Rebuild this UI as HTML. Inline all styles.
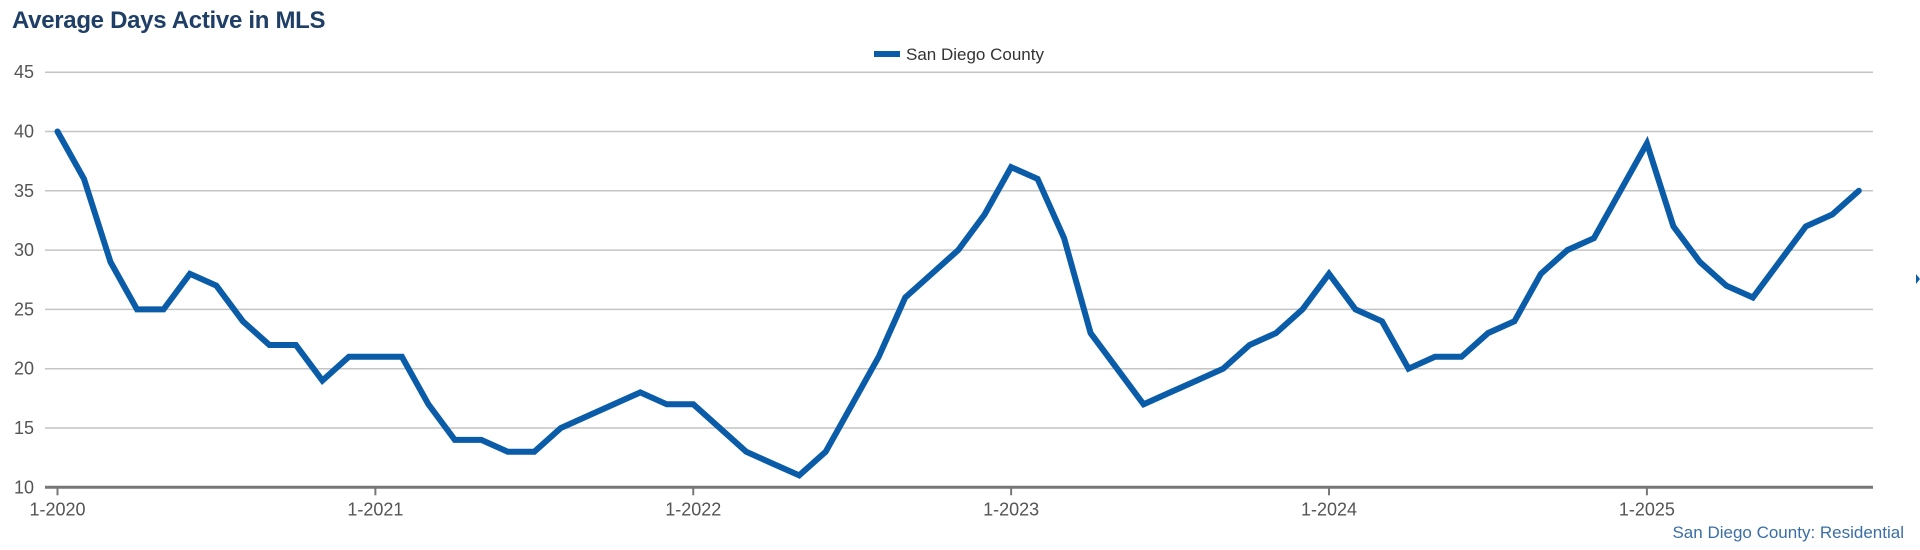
<!DOCTYPE html>
<html><head><meta charset="utf-8"><style>
body{margin:0;background:#fff;width:1920px;height:550px;overflow:hidden;font-family:"Liberation Sans",sans-serif}
#title{position:absolute;left:12px;top:7px;font-size:24px;font-weight:bold;color:#1f3f66;letter-spacing:-0.3px}
</style></head><body>
<div id="title">Average Days Active in MLS</div>
<svg id="chart" width="1920" height="550" style="position:absolute;left:0;top:0"></svg>
<script>
const yTicks=[10,15,20,25,30,35,40,45];
const xTickLabels=["1-2020","1-2021","1-2022","1-2023","1-2024","1-2025"];
const xTickMonths=[0,12,24,36,48,60];
const seriesName="San Diego County";
const values=[40,36,29,25,25,28,27,24,22,22,19,21,
21,21,17,14,14,13,13,15,16,17,18,17,
17,15,13,12,11,13,17,21,26,28,30,33,
37,36,31,23,20,17,18,19,20,22,23,25,
28,25,24,20,21,21,23,24,28,30,31,35,
39,32,29,27,26,29,32,33,35];
const NS="http://www.w3.org/2000/svg";
const svg=document.getElementById('chart');
const x0=57.5,mw=26.49,yb=487.3,pu=11.86;
const X=m=>x0+m*mw, Y=v=>yb-(v-10)*pu;
function mk(t,a,p){const e=document.createElementNS(NS,t);for(const k in a)e.setAttribute(k,a[k]);(p||svg).appendChild(e);return e;}
yTicks.forEach(v=>{
 const g=mk('line',{x1:45,x2:1873,y1:Y(v),y2:Y(v),stroke:v===10?'#777':'#c4c4c4','stroke-width':v===10?3:1.5});
 
 
 const t=mk('text',{x:34,y:Y(v)+6,'text-anchor':'end','font-size':18,fill:'#555','font-family':'Liberation Sans, sans-serif'});
 t.textContent=v;
 
 
});
xTickMonths.forEach((m,i)=>{
 const l=mk('line',{x1:X(m),x2:X(m),y1:yb,y2:yb+8,stroke:'#777','stroke-width':2});
 
 
 const t=mk('text',{x:X(m),y:yb+28,'text-anchor':'middle','font-size':18,fill:'#555','font-family':'Liberation Sans, sans-serif'});
 t.textContent=xTickLabels[i];
 
 
});
const pts=values.map((v,i)=>X(i).toFixed(1)+','+Y(v).toFixed(1)).join(' ');
const pl=mk('polyline',{points:pts,fill:'none',stroke:'#0a5ca8','stroke-width':6,'stroke-linejoin':'miter','stroke-linecap':'round'});


const lg=mk('line',{x1:874,x2:900,y1:54,y2:54,stroke:'#0a5ca8','stroke-width':6});


const lt=mk('text',{x:906,y:60,'font-size':17,fill:'#333','font-family':'Liberation Sans, sans-serif'});
lt.textContent=seriesName;


const ft=mk('text',{x:1904,y:538,'text-anchor':'end','font-size':17,fill:'#3a6ea5','font-family':'Liberation Sans, sans-serif'});
ft.textContent="San Diego County: Residential";


const ar=mk('polygon',{points:'1916,274 1920,279 1916,284',fill:'#0a5ca8'});


</script>
</body></html>
